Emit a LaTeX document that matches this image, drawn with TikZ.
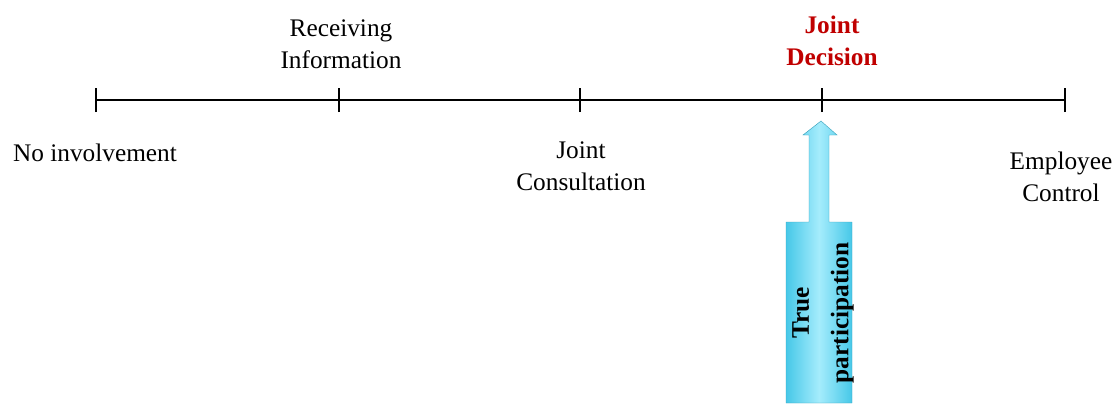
\documentclass[tikz,border=0pt]{standalone}
\usepackage{fontspec}
\setmainfont{Liberation Serif}
\usetikzlibrary{positioning}
\definecolor{decisionred}{RGB}{192,0,0}
\definecolor{arrowdark}{RGB}{70,200,232}
\definecolor{arrowlight}{RGB}{165,236,252}
\begin{document}
\begin{tikzpicture}[x=0.025cm, y=-0.025cm,
   every node/.style={font=\fontsize{18}{23}\selectfont, align=center, inner sep=0pt},
   tick/.style={line width=0.9pt},
   stage/.style={text=black},
   chosen/.style={text=decisionred, font=\fontsize{18}{23}\selectfont\bfseries},
   bigarrow/.style={draw=arrowdark!80!black, line width=0.3pt, left color=arrowdark, right color=arrowdark, middle color=arrowlight}]
\useasboundingbox (0,0) rectangle (1120,403);

% scale
\coordinate (s0) at (96,100);
\coordinate (s1) at (339,100);
\coordinate (s2) at (580,100);
\coordinate (s3) at (822,100);
\coordinate (s4) at (1065,100);
\draw[tick] (s0) -- (s4);
\foreach \s in {s0,s1,s2,s3,s4}
   \draw[tick] ([yshift=-12*0.025cm]\s) -- ([yshift=12*0.025cm]\s);

% stages
\node[stage] (none) at (95,153) {No involvement};
\node[stage] (info) at (341,44) {Receiving\\Information};
\node[stage] (consult) at (581,166) {Joint\\Consultation};
\node[chosen] (decision) at (832,41) {Joint\\Decision};
\node[stage] (control) at (1061,177) {Employee\\Control};

% arrow
\coordinate (tip) at (821,121);
\path[bigarrow] (786,403) -- (786,222) -- (809,222) -- (809,135) -- (803,135)
   -- (tip) -- (837,135) -- (829,135) -- (829,222) -- (852,222) -- (852,403) -- cycle;
\node[rotate=90, font=\fontsize{18}{28}\selectfont\bfseries] (truep) at (823,313) {True\\participation};

\end{tikzpicture}
\end{document}
